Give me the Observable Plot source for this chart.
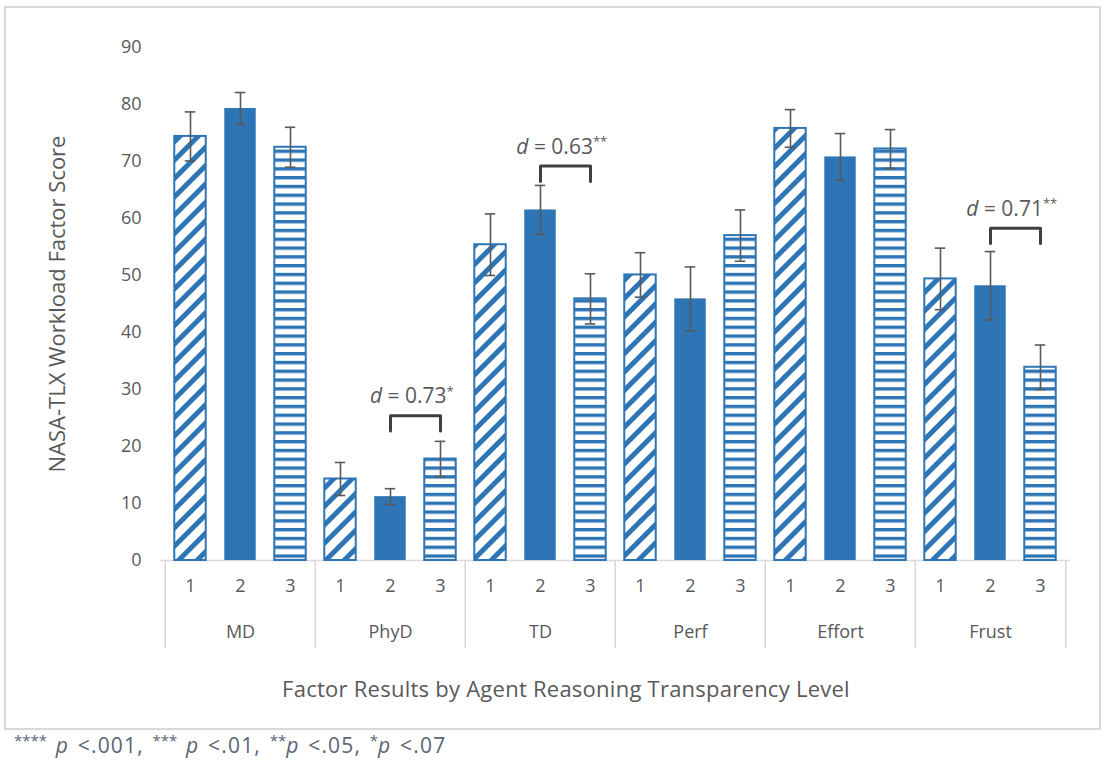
<!DOCTYPE html>
<html><head><meta charset="utf-8">
<script src="https://cdn.jsdelivr.net/npm/d3@7"></script>
<script src="https://cdn.jsdelivr.net/npm/@observablehq/plot@0.6"></script>
<style>
body{margin:0;background:#fff;font-family:"Open Sans",sans-serif;}
#wrap{position:relative;width:1105px;height:763px;}
#chart{position:absolute;left:0;top:0;}
#border{position:absolute;left:4px;top:6px;width:1093px;height:720px;border:2px solid #d9d9d9;pointer-events:none;}
#xtitle{position:absolute;left:0;width:1132px;top:673px;text-align:center;font-size:22px;letter-spacing:0.25px;color:#595959;}
#foot{position:absolute;left:14px;top:730px;font-size:21px;color:#5a6575;letter-spacing:1.2px;word-spacing:2px;}
#foot sup{font-size:15px;vertical-align:7px;letter-spacing:0;}
</style></head><body>
<div id="wrap">
<div id="chart"></div>
<div id="xtitle">Factor Results by Agent Reasoning Transparency Level</div>
<div id="border"></div>
<div id="foot"><sup>****</sup> <i>p</i> &lt;.001, <sup>***</sup> <i>p</i> &lt;.01, <sup>**</sup><i>p</i> &lt;.05, <sup>*</sup><i>p</i> &lt;.07</div>
</div>
<script>
const groups = ["MD", "PhyD", "TD", "Perf", "Effort", "Frust"];
const levels = ["1", "2", "3"];
const level1Mean = [74.4, 14.3, 55.4, 50.1, 75.8, 49.4];
const level2Mean = [79.3, 11.2, 61.5, 45.9, 70.8, 48.2];
const level3Mean = [72.5, 17.8, 45.9, 57.0, 72.2, 33.9];
const level1Err = [4.3, 2.9, 5.4, 3.9, 3.3, 5.4];
const level2Err = [2.8, 1.4, 4.3, 5.6, 4.1, 6.0];
const level3Err = [3.5, 3.1, 4.4, 4.5, 3.4, 3.9];
const annotGroups = ["PhyD", "TD", "Frust"];
const annotD = ["0.73", "0.63", "0.71"];
const annotStars = ["*", "**", "**"];
const annotHeight = [25.4, 69.2, 58.3];
const yTitle = "NASA-TLX Workload Factor Score";

const means = [level1Mean, level2Mean, level3Mean];
const errs = [level1Err, level2Err, level3Err];
const key = (g, l) => g + "|" + l;
const rows = [];
groups.forEach((g, gi) => levels.forEach((l, li) => rows.push({
  group: g, level: l, key: key(g, l), mean: means[li][gi], err: errs[li][gi]
})));

const W = 1105, H = 680, ML = 160, MR = 35, MT = 47, MB = 120;
const bw = (W - ML - MR) / rows.length;
const blue = "#2E75B6", gray = "#595959", lineGray = "#d9d9d9";
const fills = {"1": "url(#diag)", "2": blue, "3": "url(#horiz)"};
const barInset = (bw - 32) / 2;
const capInset = (bw - 11) / 2;
const tableH = 88;
const plotH = H - MT - MB;

const bracket = [];
annotGroups.forEach((g, i) => {
  const top = annotHeight[i], low = top - 2.7;
  bracket.push({id: g, x: key(g, "2"), y: low}, {id: g, x: key(g, "2"), y: top},
               {id: g, x: key(g, "3"), y: top}, {id: g, x: key(g, "3"), y: low});
});
const labels = annotGroups.map((g, i) => ({x: key(g, "2"), y: annotHeight[i], text: `d = ${annotD[i]}${annotStars[i]}`}));

const marks = [
  Plot.ruleY([0], {stroke: lineGray, strokeWidth: 1.5}),
  ...levels.map(l => Plot.barY(rows.filter(d => d.level === l), {
    x: "key", y: "mean", fill: fills[l],
    stroke: l === "2" ? "none" : blue, strokeWidth: 2,
    insetLeft: barInset, insetRight: barInset
  })),
  Plot.ruleX(rows, {x: "key", y1: d => d.mean - d.err, y2: d => d.mean + d.err, stroke: gray, strokeWidth: 1.6}),
  Plot.tickY(rows, {x: "key", y: d => d.mean + d.err, stroke: gray, strokeWidth: 1.6, insetLeft: capInset, insetRight: capInset}),
  Plot.tickY(rows, {x: "key", y: d => d.mean - d.err, stroke: gray, strokeWidth: 1.6, insetLeft: capInset, insetRight: capInset}),
  Plot.line(bracket, {x: "x", y: "y", z: "id", stroke: "#404040", strokeWidth: 3}),
  Plot.text(labels, {x: "x", y: "y", text: "text", dx: bw / 2 - 4, dy: -19, fontSize: 21, fill: gray}),
  Plot.axisY({ticks: 10, tickSize: 0, tickPadding: 19, fontSize: 18, label: null, fill: gray}),
  Plot.text([yTitle], {text: d => d, frameAnchor: "left", textAnchor: "middle", rotate: -90, dx: -103, fontSize: 22, fill: gray}),
  Plot.text(rows, {x: "key", text: "level", frameAnchor: "bottom", dy: 31, fontSize: 18, fill: gray}),
  Plot.text(groups, {x: g => key(g, "2"), text: g => g, frameAnchor: "bottom", dy: 77, fontSize: 18, fill: gray}),
  Plot.ruleX(groups, {x: g => key(g, "1"), dx: -bw / 2, dy: tableH, insetTop: plotH - tableH, stroke: lineGray, strokeWidth: 1.5}),
  Plot.ruleX(groups.slice(-1), {x: g => key(g, "3"), dx: bw / 2, dy: tableH, insetTop: plotH - tableH, stroke: lineGray, strokeWidth: 1.5})
];

const svg = Plot.plot({
  width: W, height: H,
  marginLeft: ML, marginRight: MR, marginTop: MT, marginBottom: MB,
  x: {type: "band", domain: rows.map(d => d.key), padding: 0, axis: null},
  y: {domain: [0, 90], axis: null},
  style: {fontFamily: "'Open Sans', sans-serif", color: gray, background: "transparent", overflow: "visible"},
  marks
});

const defs = d3.select(svg).insert("defs", ":first-child");
const pd = defs.append("pattern").attr("id", "diag").attr("patternUnits", "userSpaceOnUse")
  .attr("width", 13).attr("height", 13).attr("patternTransform", "rotate(45)");
pd.append("rect").attr("width", 13).attr("height", 13).attr("fill", "white");
pd.append("rect").attr("width", 5).attr("height", 13).attr("fill", blue);
const ph = defs.append("pattern").attr("id", "horiz").attr("patternUnits", "userSpaceOnUse")
  .attr("width", 10).attr("height", 8.8);
ph.append("rect").attr("width", 10).attr("height", 8.8).attr("fill", "white");
ph.append("rect").attr("width", 10).attr("height", 3.4).attr("fill", blue);

d3.select(svg).selectAll("text").each(function () {
  const t = this.textContent;
  const m = /^d = ([0-9.]+)(\*+)$/.exec(t);
  if (!m) return;
  const s = d3.select(this);
  s.text(null);
  s.append("tspan").attr("font-style", "italic").text("d");
  s.append("tspan").text(" = " + m[1]);
  s.append("tspan").attr("font-size", "13px").attr("dy", "-0.6em").text(m[2]);
});

document.getElementById("chart").appendChild(svg);
</script>
</body></html>
